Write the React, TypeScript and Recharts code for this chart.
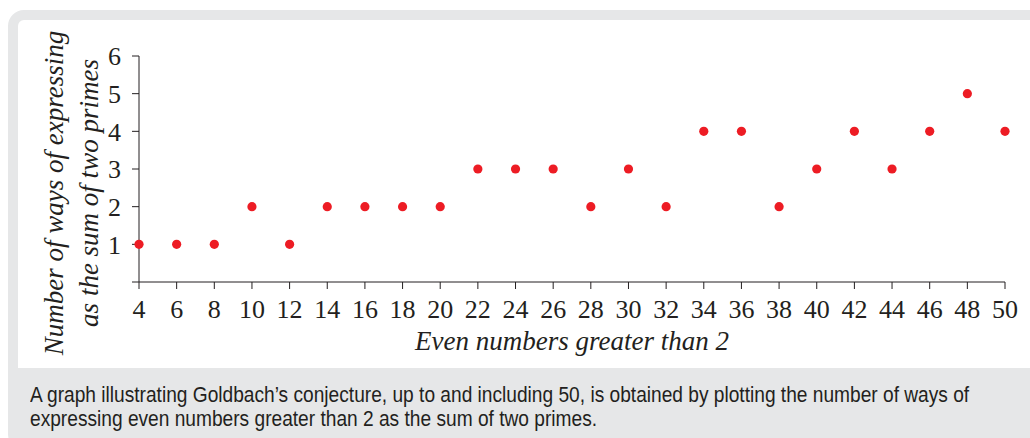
import React from 'react';
import { ScatterChart, Scatter, XAxis, YAxis } from 'recharts';

const evenNumbers = [4, 6, 8, 10, 12, 14, 16, 18, 20, 22, 24, 26, 28, 30, 32, 34, 36, 38, 40, 42, 44, 46, 48, 50];
const waysCount = [1, 1, 1, 2, 1, 2, 2, 2, 2, 3, 3, 3, 2, 3, 2, 4, 4, 2, 3, 4, 3, 4, 5, 4];
const yTicks = [0, 1, 2, 3, 4, 5, 6];
const yLabelLines = ['Number of ways of expressing', 'as the sum of two primes'];
const xLabel = 'Even numbers greater than 2';
const captionLines = [
  'A graph illustrating Goldbach\u2019s conjecture, up to and including 50, is obtained by plotting the number of ways of',
  'expressing even numbers greater than 2 as the sum of two primes.',
];

const data = evenNumbers.map((n, i) => ({ n, ways: waysCount[i] }));

const SERIF = '"Liberation Serif", "Times New Roman", serif';
const INK = '#231f20';

const Dot = (props: any) => <circle cx={props.cx} cy={props.cy} r={4.6} fill="#ed1c24" />;

const YLabel = (props: any) => {
  const { viewBox } = props;
  const cy = 193;
  const xs = [viewBox.x - 25, viewBox.x + 10];
  return (
    <g>
      {yLabelLines.map((line, i) => (
        <text
          key={line}
          x={xs[i]}
          y={cy}
          transform={`rotate(-90 ${xs[i]} ${cy})`}
          textAnchor="middle"
          dominantBaseline="central"
          fontFamily={SERIF}
          fontStyle="italic"
          fontSize={27}
          fill={INK}
        >
          {line}
        </text>
      ))}
    </g>
  );
};

export default function App() {
  return (
    <div style={{ position: 'absolute', left: 0, top: 0, width: 1030, height: 438, overflow: 'hidden', background: '#fff' }}>
      {/* grey card */}
      <div
        style={{
          position: 'absolute',
          left: 8,
          top: 10,
          width: 1040,
          height: 440,
          background: '#e6e7e8',
          borderRadius: 16,
        }}
      />
      {/* white plot panel */}
      <div
        style={{
          position: 'absolute',
          left: 18,
          top: 20,
          width: 1030,
          height: 348,
          background: '#fff',
          borderTopLeftRadius: 6,
        }}
      />
      <div style={{ position: 'absolute', left: 0, top: 0 }}>
        <ScatterChart width={1030} height={368} margin={{ top: 56, right: 25, bottom: 56, left: 79 }}>
          <XAxis
            dataKey="n"
            type="number"
            domain={[4, 50]}
            ticks={evenNumbers}
            interval={0}
            stroke={INK}
            tickSize={7}
            tickMargin={11}
            height={30}
            tick={{ fontFamily: SERIF, fontSize: 26, fill: INK }}
            label={{
              value: xLabel,
              position: 'insideBottom',
              offset: -38,
              fontFamily: SERIF,
              fontStyle: 'italic',
              fontSize: 27,
              fill: INK,
            }}
          />
          <YAxis
            dataKey="ways"
            type="number"
            domain={[0, 6]}
            ticks={yTicks}
            tickFormatter={(v: number) => (v === 0 ? '' : String(v))}
            interval={0}
            stroke={INK}
            tickSize={7}
            tickMargin={11}
            width={60}
            tick={{ fontFamily: SERIF, fontSize: 26, fill: INK }}
            label={<YLabel />}
          />
          <Scatter data={data} shape={<Dot />} isAnimationActive={false} />
        </ScatterChart>
      </div>
      <div
        style={{
          position: 'absolute',
          left: 30,
          top: 383,
          width: 1200,
          transform: 'scaleX(0.87)',
          transformOrigin: 'left top',
          fontFamily: '"Liberation Sans", Arial, sans-serif',
          fontSize: 22,
          lineHeight: '24px',
          color: INK,
          whiteSpace: 'nowrap',
        }}
      >
        {captionLines.map((line) => (
          <div key={line}>{line}</div>
        ))}
      </div>
    </div>
  );
}
